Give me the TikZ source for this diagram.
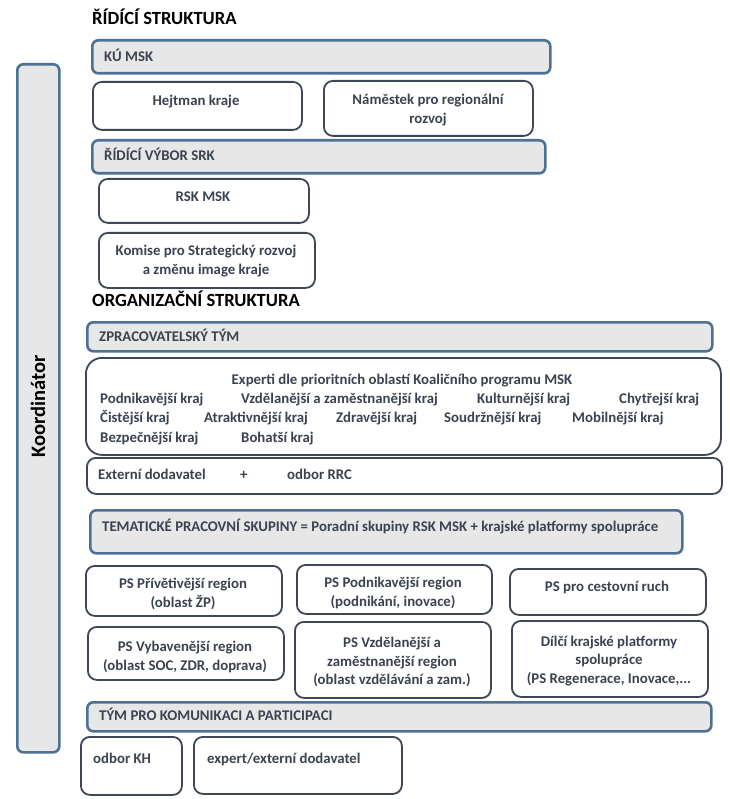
\documentclass[tikz,border=0pt]{standalone}
\usepackage{fontspec}
\setmainfont{Carlito}
\definecolor{barblue}{HTML}{4D7194}
\definecolor{barfill}{HTML}{E7E7E8}
\definecolor{boxline}{HTML}{3E4756}
\definecolor{txtc}{HTML}{3C4350}
\tikzset{
  bar/.style={draw=barblue, line width=2.6pt, fill=barfill, rounded corners=6pt, anchor=north west, inner sep=0pt},
  box/.style={draw=boxline, line width=1.8pt, fill=white, rounded corners=9pt, anchor=north west, inner sep=0pt},
  txt/.style={text=txtc, font=\bfseries\fontsize{14.8}{18}\selectfont, inner sep=0pt, anchor=mid west, yshift=-2pt},
  ctxt/.style={text=txtc, font=\bfseries\fontsize{14.8}{18.8}\selectfont, inner sep=0pt, align=center, yshift=-2pt},
  heading/.style={text=black, font=\bfseries\fontsize{18.6}{22}\selectfont, inner sep=0pt, anchor=mid west, yshift=-2pt},
}
\begin{document}
\begin{tikzpicture}[x=1pt,y=-1pt]
\useasboundingbox (0,0) rectangle (729,799);

% Koordinator
\node[bar, minimum width=42pt, minimum height=688pt] (koord) at (16,63) {};
\node[text=black, font=\bfseries\fontsize{20.5}{24}\selectfont, rotate=90, inner sep=0pt] (koordt) at (38,406) {Koordinátor};

% Ridici struktura
\node[heading] (h1) at (92,20) {ŘÍDÍCÍ STRUKTURA};
\node[bar, minimum width=458pt, minimum height=33pt] (ku) at (91,39) {};
\node[txt] (kut) at (104,57) {KÚ MSK};
\node[box, minimum width=209pt, minimum height=48pt] (hejt) at (92,81) {};
\node[ctxt] (hejtt) at (196,100) {Hejtman kraje};
\node[box, minimum width=209pt, minimum height=55pt] (nam) at (323,80) {};
\node[ctxt] (namt) at (428,108) {Náměstek pro regionální\\rozvoj};
\node[bar, minimum width=453pt, minimum height=33pt] (rv) at (91,139) {};
\node[txt] (rvt) at (104,156) {ŘÍDÍCÍ VÝBOR SRK};
\node[box, minimum width=210pt, minimum height=44pt] (rsk) at (98,178) {};
\node[ctxt] (rskt) at (203,195) {RSK MSK};
\node[box, minimum width=216pt, minimum height=55pt] (kom) at (98,232) {};
\node[ctxt] (komt) at (206,259) {Komise pro Strategický rozvoj\\a změnu image kraje};

% Organizacni struktura
\node[heading] (h2) at (92,302) {ORGANIZAČNÍ STRUKTURA};
\node[bar, minimum width=625pt, minimum height=29pt] (zt) at (86,321) {};
\node[txt] (ztt) at (99,337) {ZPRACOVATELSKÝ TÝM};
\node[box, minimum width=635pt, minimum height=97pt, rounded corners=16pt] (exp) at (85,357) {};
\node[ctxt] (expt) at (402,379) {Experti dle prioritních oblastí Koaličního programu MSK};
\node[txt] (e1) at (100,399) {Podnikavější kraj};
\node[txt] (e2) at (241,399) {Vzdělanější a zaměstnanější kraj};
\node[txt] (e3) at (477,399) {Kulturnější kraj};
\node[txt] (e4) at (619,399) {Chytřejší kraj};
\node[txt] (e5) at (100,418) {Čistější kraj};
\node[txt] (e6) at (204,418) {Atraktivnější kraj};
\node[txt] (e7) at (336,418) {Zdravější kraj};
\node[txt] (e8) at (444,418) {Soudržnější kraj};
\node[txt] (e9) at (572,418) {Mobilnější kraj};
\node[txt] (e10) at (100,438) {Bezpečnější kraj};
\node[txt] (e11) at (241,438) {Bohatší kraj};
\node[box, minimum width=635pt, minimum height=36pt] (ext) at (86,457) {};
\node[txt] (ext1) at (98,475) {Externí dodavatel};
\node[txt] (ext2) at (240,475) {+};
\node[txt] (ext3) at (287,475) {odbor RRC};

\node[bar, minimum width=592pt, minimum height=43pt] (tps) at (89,509) {};
\node[txt] (tpst) at (102,527) {TEMATICKÉ PRACOVNÍ SKUPINY = Poradní skupiny RSK MSK + krajské platformy spolupráce};

\node[box, minimum width=196pt, minimum height=50pt] (ps1) at (85,565) {};
\node[ctxt] (ps1t) at (183,592) {PS Přívětivější region\\(oblast ŽP)};
\node[box, minimum width=195pt, minimum height=49pt] (ps2) at (296,564) {};
\node[ctxt] (ps2t) at (393,591) {PS Podnikavější region\\(podnikání, inovace)};
\node[box, minimum width=196pt, minimum height=46pt] (ps3) at (509,568) {};
\node[ctxt] (ps3t) at (607,585) {PS pro cestovní ruch};
\node[box, minimum width=196pt, minimum height=53pt] (ps4) at (87,626) {};
\node[ctxt] (ps4t) at (185,655) {PS Vybavenější region\\(oblast SOC, ZDR, doprava)};
\node[box, minimum width=196pt, minimum height=76pt] (ps5) at (294,621) {};
\node[ctxt] (ps5t) at (392,660) {PS Vzdělanější a\\zaměstnanější region\\(oblast vzdělávání a zam.)};
\node[box, minimum width=196pt, minimum height=76pt] (ps6) at (511,620) {};
\node[ctxt] (ps6t) at (609,659) {Dílčí krajské platformy\\spolupráce\\(PS Regenerace, Inovace,...};

\node[bar, minimum width=624pt, minimum height=29pt] (tk) at (86,701) {};
\node[txt] (tkt) at (99,716) {TÝM PRO KOMUNIKACI A PARTICIPACI};
\node[box, minimum width=101pt, minimum height=58pt] (kh) at (80,736) {};
\node[txt] (kht) at (93,759) {odbor KH};
\node[box, minimum width=208pt, minimum height=57pt] (ed) at (193,736) {};
\node[txt] (edt) at (207,759) {expert/externí dodavatel};
\end{tikzpicture}
\end{document}
